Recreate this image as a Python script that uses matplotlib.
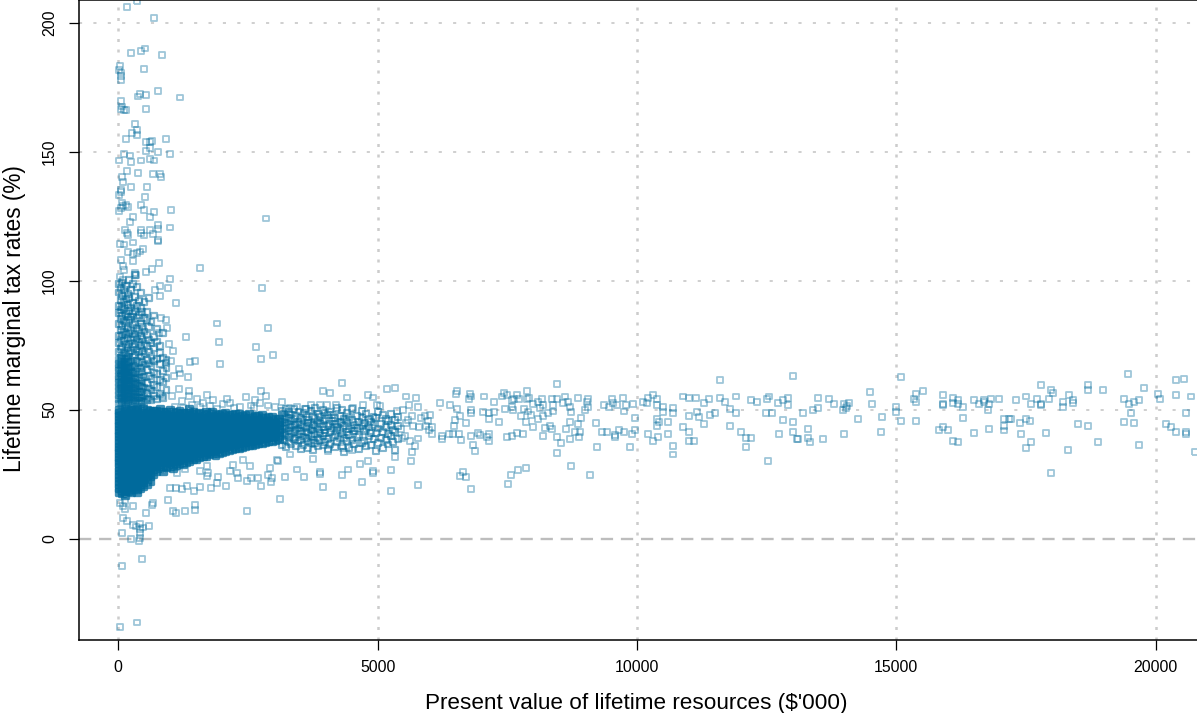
import numpy as np
import matplotlib
matplotlib.use("Agg")
import matplotlib.pyplot as plt

plt.rcParams['font.family'] = ['Liberation Sans', 'DejaVu Sans']

# right tail, read point by point
x_tail = [5540,5733,5611,5784,5482,6202,6395,6536,6511,6780,6755,6806,7050,7243,6536,6806,6806,6588,7038,7147,7243,7147,7340,7391,7442,7487,7584,7629,7680,7731,7873,7924,7873,7462,7584,7616,7828,7905,7950,8001,8130,8194,8098,8162,8355,8387,8451,8612,8580,8676,8708,8728,8387,8291,8194,8098,7757,7854,8001,6491,6478,6703,5656,5913,6009,5829,5977,5592,5547,5688,5804,5932,6041,5996,5444,5527,5463,5624,5784,5720,5662,5643,5784,6234,6234,6041,6376,6459,6575,6601,6800,6935,6973,7153,7102,7147,6832,6877,7487,7584,7680,7809,8194,8226,8323,8368,8464,8451,8535,8631,8708,8708,8805,8869,8920,8901,8882,8869,9062,9030,9062,8998,9209,9235,8464,8728,9094,9332,9415,9576,9576,9653,9756,9897,9961,9961,9865,9370,9467,9512,9544,9608,9724,9749,9788,9916,10109,10218,10199,10302,10392,10392,10508,10508,10700,10700,10604,10379,10430,10392,10205,10302,10398,10604,10700,10700,10893,11009,11009,11105,10893,11009,11131,11009,11150,11202,11298,11298,11394,11407,11504,11600,11600,11690,11793,11908,11908,11793,11998,12101,12198,12101,12191,12307,12500,12545,12480,12596,12712,12808,12904,12904,13001,12808,13001,13001,12737,13091,12519,6639,6588,6703,6806,7507,7564,7706,7854,
          13194,13387,13490,13490,13708,13805,13972,13997,14049,14023,14094,14486,14531,14261,14730,14704,13997,13586,13342,13297,13297,13104,15090,14994,14994,15090,15386,15386,15508,15334,15386,15893,15893,15893,16086,16086,16189,16189,16285,16504,16600,16696,16696,16818,16793,16767,16986,17300,17500,17596,17718,17789,17789,17789,17937,17988,18014,18207,18207,18329,18399,18399,18689,18689,18984,19395,19492,19588,19685,19466,19781,20051,20077,20391,20539,20391,20687,20584,19517,16285,15893,15822,15990,16504,16793,17082,17178,17204,17082,17082,17378,17500,17570,17403,17596,17500,17892,17988,18303,18496,18689,18888,19395,19588,19685,20199,20296,20391,20584,20584,20764,16086,16189]
y_tail = [55.1,54.6,51.7,51.1,49.7,52.7,51.7,57.1,56.0,56.0,54.1,55.1,55.1,53.1,50.2,49.7,48.7,47.7,49.2,48.7,49.2,46.2,45.3,55.1,56.6,55.7,53.6,54.1,55.7,54.1,57.1,54.6,54.1,50.2,51.1,50.0,50.2,49.3,48.0,52.2,50.6,51.7,53.1,54.1,54.1,51.7,54.1,55.1,52.6,53.1,51.1,49.2,49.3,48.7,47.4,46.4,47.7,45.1,43.4,45.9,43.8,44.8,47.7,47.7,48.0,46.8,45.5,45.9,44.8,43.8,43.4,43.8,43.4,42.0,42.5,39.9,39.0,38.0,38.8,36.0,33.7,30.2,20.8,39.9,38.6,40.4,40.4,40.7,40.7,38.4,39.9,41.0,40.2,40.7,39.4,38.0,36.4,34.1,39.5,39.9,41.0,40.7,39.9,42.9,43.8,42.4,60.1,39.5,37.0,42.4,45.3,38.5,41.5,44.3,46.8,41.5,39.4,54.6,54.1,53.0,51.1,49.7,44.8,35.5,33.1,28.2,24.8,41.5,41.5,39.4,40.3,42.0,41.5,40.4,42.0,46.8,35.5,51.7,51.1,54.1,52.6,51.9,54.6,49.3,51.7,52.2,53.1,54.6,52.6,55.7,54.1,51.7,51.1,49.2,50.6,48.7,45.3,46.4,45.3,43.8,40.4,38.0,39.4,40.4,36.0,32.6,43.4,41.5,38.0,38.0,55.1,54.6,54.6,47.7,49.2,47.3,44.3,52.7,54.1,48.0,48.7,61.5,54.6,53.1,50.2,55.1,48.7,43.8,41.5,38.9,38.9,35.5,53.6,53.1,54.1,55.1,48.7,48.7,52.7,53.6,54.6,51.7,62.9,45.9,45.3,41.5,40.4,38.5,30.2,25.8,24.3,23.9,19.4,21.3,24.8,26.7,27.3,
          48.7,49.7,50.6,54.6,54.1,52.2,49.7,52.2,51.3,50.6,52.7,56.7,52.2,46.4,47.3,41.5,40.4,38.5,37.5,38.9,42.4,38.5,62.5,51.1,49.2,45.7,45.7,56.2,57.1,54.1,53.1,55.7,52.2,51.8,54.6,52.7,53.6,52.2,51.1,53.6,52.2,53.6,53.1,54.1,52.2,49.7,54.1,53.6,55.1,52.2,54.1,59.5,52.2,51.8,54.1,57.6,56.6,53.1,51.1,55.7,53.6,52.7,59.5,57.6,57.6,54.1,52.2,53.1,53.6,63.9,58.5,56.1,54.1,61.5,62.0,55.7,55.1,48.7,48.7,46.8,43.3,42.0,42.0,41.0,42.4,46.2,46.2,46.2,43.8,41.9,44.8,46.2,45.7,40.4,37.5,35.0,41.0,25.3,34.5,44.3,43.8,37.5,45.3,44.8,36.4,44.3,43.4,41.5,41.5,40.4,33.6,38.0,37.5]

# high rates near zero resources
x_high = [167,366,681,514,437,244,849,32,19,52,52,52,489,759,418,386,534,1196,45,65,45,110,148,534,315,366,264,366,142,925,527,611,649,611,534,759,996,116,219,19,244,437,611,681,167,386,662,810,829,71,97,244,559,45,45,19,508,71,148,437,97,45,193,489,19,1022,681,604,289,2841,219,759,759,996,122,437,611,167,193,437,489,662,759,
          32,109,193,289,366,418,482,289,759,45,97,289,109,322,341,32,97,
          1575,2770,1896,2892,1311,1941,2648,2988,2744,1967,1485,1382,1118,996,784,656,534,951,803,707,803,913,816,932,784,971,1048,1016,913,1170,1189,1067,1337]
y_high = [206.2,208.4,201.7,190,189.2,188.1,187.6,183.2,181.7,180.7,179.4,177.8,182.2,173.4,172.4,171.4,171.9,171,169.6,167.5,166.6,166.2,166.1,166.6,160.6,158.3,157.4,156.4,154.8,154.8,153.8,153.8,154.3,151.3,150.4,149.9,149,149,148.5,146.6,146.1,146.6,147.1,146.6,142.6,141.7,141.2,141.2,140.3,140.3,138.3,136.2,136.2,135.2,134.2,133.3,132.4,130.3,129.4,129.4,128.8,128.1,128.4,127.5,127.1,127.5,126.6,124.6,124.6,124.1,122.6,121.5,120.1,120.6,119.7,119.7,119.7,118.4,117.7,118.4,117.5,118,115.8,
          114.3,114,111,110.4,110.7,111.3,112.2,114.8,115.2,108,105.8,107.5,104.2,103,102.3,101.6,100.4,
          104.9,97.1,83.4,81.5,78,76.1,74.2,71.3,69.8,67.8,68.8,68.3,91.3,100.6,106.8,104.6,103.3,97.1,97.8,96.5,93.9,84.9,85.5,81.5,79.7,75.6,72.6,68.9,68.1,65.8,64,62.9,62.5]

# low rates and the scatter just above and below the band
x_low = [463,71,26,366,71,244,399,424,424,412,418,289,341,482,585,161,97,534,1048,1118,1292,1485,1485,2481,3117,4331,5250,3939,4691,951,675,643,289,129,97,32,129,1000,1106,1221,1318,1459,1575,1780,1896,2069,2744,2937,2474,2551,2699,2963,3213,3580,2307,1922,1703,3888,4306,4916,
         3438,3085,4916,4820,4659,4434,3888,5334,5250,4498,4338,4049,3760,3310,3053,2538,2153,2217,2281,1703,1575,1735,1285,1125,2410,2924,2892,
         1170,1363,1369,1703,2089,2153,2455,2744,2841,2635,3161,2731,2551,1639,1832,1510,1221,1028,835,3939,4081,4318,4402,4813,4916,5173,5327,3708,3888,4016,4196,4723,4531,5045,4981,5366,
         1090,1255,1420,1580,1760,1905,2010,2230,2345,2610,2890,3020,3300,3450,3600]
y_low = [-8,-10.5,-34.3,-32.5,2.3,0,-1,0.4,2.3,3.9,5.6,5.2,4.7,4.3,4.9,6.8,8.1,10.1,10.7,9.8,10.7,11.1,13.2,10.7,15.5,16.9,18.5,20,21.9,15,13.9,13,12.7,11.4,12.7,13.7,14.6,19.5,19.5,19.1,20.4,18.5,20,19.5,21.4,20.4,20.4,21.9,22.3,23.4,23.4,23.4,23.9,23.9,23.4,23.9,24.3,25.2,24.7,25.6,
         26.8,30,26.1,30.2,29.1,26.8,25.9,31.7,26.5,34.5,35.2,33.9,30.9,32.6,30.6,28.1,26.1,28.7,25.5,28.1,26.1,25.5,26.8,25.5,30.6,27.4,24.8,
         58.1,57.1,55.2,55.6,54.1,52.6,54.8,57.1,55.2,53.6,53.1,52.6,51.6,52.6,53.9,54.1,53.2,55.4,55.4,57.1,56.6,60.5,54.7,55.6,54.7,58,58.5,51.7,51.7,51.7,51.7,51.7,50.7,51.3,51.7,49.4,
         51.2,50.6,51.8,50.9,51.4,50.4,52.2,50.8,51.1,50.5,51.6,50.9,50.7,51.2,50.3]

# cloud between 52 and 100 at the left, one column of readings per x
upper_x = [15,45,80,110,145,180,215,250,285,320,355,395,430,465,505,545,590,640,690,745,800,860,930]
upper_y = [
    [52.4,54.1,55.8,57.2,58.9,60.3,61.8,63.2,64.9,66.1,67.7,69.2,72.5,75.8,78.4,83.1,87.6,90.2,95.4,98.7],
    [53.0,54.7,56.3,57.9,59.4,60.8,62.5,63.9,65.4,67.0,68.4,70.1,73.6,77.2,80.9,85.3,88.7,92.6,97.1],
    [52.1,53.6,55.2,56.9,58.3,60.0,61.4,62.9,64.3,65.8,67.4,68.9,70.8,74.3,78.9,82.5,86.2,89.8,94.1,99.3],
    [52.8,54.5,56.1,57.6,59.2,60.6,62.1,63.7,65.1,66.6,68.1,69.7,72.1,76.6,80.1,84.4,88.9,91.7,96.3],
    [52.3,53.9,55.5,57.3,58.7,60.2,61.7,63.4,64.7,66.3,67.8,69.5,71.3,75.1,79.4,83.7,87.2,92.9,98.1],
    [53.3,54.8,56.6,58.1,59.6,61.2,62.6,64.1,65.6,67.2,68.6,70.4,73.9,77.8,81.6,86.1,90.7,94.8],
    [52.6,54.2,55.9,57.5,59.0,60.5,62.2,63.6,65.2,66.7,68.3,71.8,75.4,79.7,84.8,88.2,93.2,100.1],
    [53.1,54.9,56.4,58.2,59.8,61.3,63.0,64.5,66.4,68.8,72.9,76.9,80.8,85.9,89.6,96.4],
    [52.2,53.8,55.6,57.1,58.8,60.6,62.4,64.2,66.9,70.3,74.2,78.1,82.7,87.1,91.4,98.6],
    [53.4,55.1,56.7,58.5,60.1,62.0,64.0,67.3,71.2,75.6,79.2,84.1,88.4,93.6,102.1],
    [52.5,54.4,56.2,58.0,59.9,62.8,65.7,69.0,73.3,77.4,81.3,85.4,90.1,97.4],
    [53.2,55.0,57.0,59.1,61.6,64.6,68.2,72.2,76.1,80.5,86.8,92.3],
    [52.7,54.6,56.8,59.3,62.3,66.0,70.6,74.8,78.7,83.4,89.3,95.2],
    [53.5,55.7,58.4,61.1,64.8,68.5,72.7,77.5,82.2,87.9],
    [52.9,55.3,58.6,62.7,67.5,71.5,75.3,80.3,85.6,91.8],
    [53.7,56.5,60.4,65.3,69.3,74.7,79.0,84.6,88.0],
    [54.3,58.2,63.1,67.9,72.4,77.1,81.9,93.4],
    [53.8,57.4,61.9,66.8,70.7,75.9,83.9],
    [55.4,59.7,64.4,68.7,73.7,78.3,86.5],
    [54.0,58.8,63.8,69.6,76.4,81.1],
    [56.0,61.5,67.6,71.9,74.6],
    [54.4,60.7,65.0,70.0,79.8],
    [57.7,62.2,66.2,69.4],
]

# solid band, read column by column
core_x = [22,75,130,190,245,305,365,420,485,545,610,
          672,735,800,862,925,990,1055,1118,1180,1245,1310,1370,1435,1500,
          1562,1625,1690,1750,1815,1875,1940,2005,2065,2130,2190,2255,2320,2385,
          2450,2515,2575,2640,2700,2770,2830,2895,2960,3030,3100]
core_y = [
    [18.2,19.6,21.1,22.3,23.9,25.0,26.4,27.9,29.2,30.4,31.8,33.1,34.5,35.6,37.0,38.3,39.7,40.9,42.2,43.6,44.8,46.1,47.5,48.6,49.8],
    [17.5,18.9,20.4,21.7,23.0,24.4,25.9,27.1,28.5,29.8,31.0,32.4,33.8,35.2,36.3,37.7,39.0,40.2,41.6,43.0,44.1,45.4,46.9,48.1,49.3],
    [16.8,18.3,19.9,21.4,22.6,24.1,25.3,26.8,28.0,29.4,30.7,32.0,33.4,34.7,36.1,37.4,38.6,40.0,41.3,42.6,43.9,45.2,46.6,47.8,49.1,50.3],
    [18.6,20.0,21.3,22.9,24.3,25.6,27.0,28.3,29.6,31.1,32.3,33.6,35.0,36.4,37.6,38.9,40.3,41.7,42.9,44.3,45.6,46.8,48.2,49.5],
    [17.9,19.3,20.7,22.0,23.5,24.8,26.2,27.6,28.8,30.2,31.5,32.9,34.2,35.5,36.9,38.1,39.5,40.8,42.1,43.5,44.7,46.0,47.3,48.7,50.0],
    [19.1,20.5,21.9,23.3,24.6,26.0,27.4,28.7,30.0,31.4,32.7,34.0,35.3,36.7,38.0,39.3,40.6,41.9,43.3,44.6,45.9,47.2,48.5,49.7],
    [18.0,19.4,20.8,22.2,23.7,25.1,26.5,27.8,29.1,30.5,31.9,33.2,34.6,35.9,37.2,38.5,39.8,41.1,42.4,43.8,45.1,46.4,47.7,49.0,50.2],
    [19.5,21.0,22.5,24.0,25.4,26.7,28.1,29.5,30.8,32.1,33.5,34.8,36.2,37.5,38.8,40.1,41.4,42.8,44.0,45.3,46.7,48.0,49.4],
    [20.2,21.8,23.4,24.9,26.3,27.7,29.0,30.3,31.7,33.0,34.3,35.7,37.1,38.4,39.6,41.0,42.3,43.7,44.9,46.2,47.6,48.9,50.1],
    [21.2,23.1,24.7,26.1,27.5,28.9,30.1,31.6,32.8,34.1,35.4,36.8,38.2,39.4,40.7,42.0,43.4,44.6,46.0,47.4,48.6,49.9],
    [22.4,24.2,25.8,27.3,28.6,30.0,31.3,32.6,33.9,35.1,36.6,37.9,39.1,40.5,41.8,43.2,44.5,45.8,47.1,48.4,49.6],
    [25.0,27.0,28.4,29.9,31.2,32.5,33.7,35.0,36.5,37.8,39.2,40.4,41.7,43.1,44.4,45.7,47.0,48.3,49.5],
    [26.3,28.2,29.7,31.0,32.4,33.8,35.2,36.4,37.7,39.0,40.3,41.6,42.9,44.2,45.6,46.9,48.2,49.6],
    [27.4,28.9,30.4,31.7,33.1,34.4,35.8,37.1,38.5,39.8,41.1,42.5,43.8,45.0,46.4,47.8,49.0,50.2],
    [26.0,28.0,29.5,30.9,32.2,33.6,34.9,36.2,37.6,38.9,40.2,41.5,42.8,44.1,45.5,46.8,48.1,49.3],
    [27.8,29.2,30.6,32.0,33.3,34.7,36.0,37.3,38.7,40.0,41.4,42.7,44.0,45.4,46.6,47.9,49.2],
    [28.3,29.8,31.1,32.6,33.9,35.3,36.6,38.0,39.3,40.6,41.9,43.2,44.5,45.9,47.2,48.5,49.8],
    [27.2,29.0,30.5,31.8,33.2,34.5,35.9,37.2,38.6,39.9,41.2,42.6,43.9,45.2,46.5,47.7,49.1],
    [28.6,30.1,31.5,32.9,34.2,35.6,36.9,38.3,39.5,40.8,42.1,43.4,44.7,46.1,47.4,48.8],
    [29.3,30.8,32.3,33.7,35.0,36.3,37.7,39.1,40.4,41.7,43.0,44.3,45.6,47.0,48.3,49.5],
    [28.8,30.3,31.6,33.0,34.4,35.7,37.0,38.4,39.7,41.0,42.3,43.7,45.0,46.3,47.6,48.9],
    [29.6,31.2,32.7,34.1,35.5,36.8,38.1,39.4,40.7,42.0,43.5,44.8,46.0,47.3,48.6],
    [30.0,31.5,32.9,34.3,35.6,37.0,38.3,39.6,41.0,42.2,43.6,44.9,46.2,47.5,48.8,50.1],
    [30.7,32.1,33.5,34.8,36.2,37.5,38.8,40.1,41.5,42.8,44.1,45.4,46.7,48.0,49.2],
    [31.0,32.4,33.8,35.1,36.4,37.8,39.1,40.5,41.8,43.1,44.4,45.7,47.1,48.4],
    [31.6,33.0,34.4,35.7,37.1,38.4,39.7,41.0,42.4,43.7,45.0,46.3,47.6,48.9],
    [32.2,33.6,35.0,36.3,37.6,39.0,40.3,41.6,43.0,44.3,45.5,46.9,48.2],
    [31.9,33.3,34.7,36.0,37.4,38.7,40.0,41.3,42.7,44.0,45.3,46.6,47.9,49.2],
    [32.6,34.0,35.4,36.7,38.1,39.4,40.7,42.1,43.4,44.6,46.0,47.3,48.5],
    [33.0,34.4,35.8,37.2,38.5,39.8,41.2,42.5,43.8,45.1,46.4,47.7,49.0],
    [32.4,33.9,35.3,36.6,38.0,39.3,40.6,41.9,43.2,44.5,45.8,47.2,48.4],
    [33.3,34.7,36.1,37.4,38.8,40.1,41.4,42.8,44.1,45.4,46.7,48.0],
    [33.7,35.1,36.5,37.9,39.2,40.5,41.8,43.1,44.4,45.7,47.0,48.3],
    [34.1,35.5,36.8,38.2,39.5,40.8,42.2,43.5,44.8,46.1,47.4,48.7],
    [34.5,35.9,37.3,38.6,39.9,41.3,42.6,43.9,45.2,46.5,47.8],
    [34.8,36.2,37.6,38.9,40.2,41.6,42.9,44.2,45.5,46.8,48.1],
    [35.2,36.6,38.0,39.3,40.6,42.0,43.3,44.6,45.9,47.2,48.4],
    [35.0,36.4,37.7,39.1,40.4,41.7,43.0,44.4,45.6,47.0,48.2],
    [35.6,37.0,38.4,39.7,41.0,42.3,43.6,44.9,46.2,47.6],
    [35.9,37.3,38.6,40.0,41.3,42.6,43.9,45.3,46.6,47.9],
    [36.2,37.6,39.0,40.4,41.7,43.0,44.3,45.6,46.9,48.2],
    [36.4,37.8,39.2,40.5,41.9,43.2,44.5,45.8,47.1],
    [36.7,38.1,39.5,40.8,42.2,43.5,44.8,46.1,47.4],
    [37.0,38.4,39.8,41.1,42.4,43.7,45.0,46.3,47.6],
    [37.2,38.7,40.1,41.4,42.7,44.0,45.3,46.6,47.9],
    [37.5,38.9,40.3,41.6,42.9,44.2,45.5,46.8],
    [37.8,39.2,40.6,41.9,43.2,44.5,45.8,47.0],
    [38.0,39.4,40.8,42.2,43.5,44.8,46.1,47.3],
    [38.2,39.7,41.1,42.4,43.7,45.0,46.3],
    [38.5,39.9,41.3,42.6,43.9,45.2,46.5],
]

# thinning band, 3100 to 5400
band_x = [3150,3195,3240,3290,3335,3380,3430,3475,3520,3570,3615,3660,3710,3755,3800,3850,3895,3940,3990,4035,4080,4130,4175,4220,4270,4315,4360,4410,4455,4500,4550,4595,4640,4690,4735,4780,4830,4875,4920,4970,5015,5060,5110,5155,5200,5250,5295,5340,5390]
band_y = [
    [36.2,39.8,42.4,45.1,47.9,49.6],[38.1,41.0,43.7,46.2,48.5],[35.4,40.2,42.9,44.8,47.1,50.2],[37.3,39.4,41.8,44.0,46.7,49.0],
    [36.8,40.7,43.1,45.6,48.1],[38.6,41.4,43.9,46.4,50.4],[35.9,39.2,42.1,44.5,47.5],[37.7,40.5,42.7,45.3,49.3],
    [34.8,38.4,41.6,44.2,46.9],[36.4,39.6,43.4,45.9,48.8],[38.9,41.2,43.0,47.3,50.1],[35.2,37.9,40.9,44.7,46.1],
    [36.9,39.9,42.3,45.0,49.5],[34.3,38.2,41.9,44.1,47.6],[37.1,40.4,43.6,46.6,50.6],[35.7,39.1,42.6,45.4,48.3],
    [38.4,41.1,44.4,47.0],[36.1,39.7,43.2,45.8,50.0],[37.6,40.8,42.0,46.3,48.9],[34.9,38.7,43.8,47.8],
    [36.6,41.5,44.6,49.2],[39.3,42.8,45.7,48.0],[35.5,40.0,44.3,46.8],[37.4,41.7,43.3,50.8],
    [38.8,42.2,45.2,47.4],[36.0,40.6,44.9,49.8],[33.6,39.0,43.5,46.5],[37.8,41.3,45.5,48.6],
    [35.0,40.1,42.5,47.2],[38.3,43.0,46.0,50.3],[36.7,41.6,44.0],[39.5,42.9,47.7],
    [34.6,40.3,45.3],[37.2,43.7,46.9,49.4],[38.0,41.8,44.7],[35.8,42.4,48.2],
    [39.6,43.4,46.2],[36.3,41.0,45.1],[38.5,44.2,47.3],[34.1,40.9,46.7],
    [37.0,42.7,49.0],[39.1,44.6],[35.3,41.4,47.9],[38.2,43.1,46.4],
    [36.5,40.5,45.6],[39.8,44.1,48.4],[37.5,42.1],[34.4,41.2,46.1],[38.7,43.6,47.0],
]

x_ticks = [0, 5000, 10000, 15000, 20000]
y_ticks = [0, 50, 100, 150, 200]
grid_y = [50, 100, 150, 200]

fig = plt.figure(figsize=(11.97, 7.13), dpi=100)
ax = fig.add_axes([78.5/1197, 73/713, (1197-78.5)/1197, 640/713])
ax.set_xlim(-767, 20796)
ax.set_ylim(-39.3, 208.8)

for v in x_ticks:
    ax.axvline(v, color='#cccccc', lw=1.8, ls=(0, (1.2, 3.0)), zorder=1)
for v in grid_y:
    ax.axhline(v, color='#cfcfcf', lw=1.4, ls=(0, (1.6, 5.8)), zorder=1)
ax.axhline(0, color='#bdbdbd', lw=1.7, ls=(0, (5.2, 3.3)), zorder=1)

upper_xs = [x for x, ys in zip(upper_x, upper_y) for y in ys]
upper_ys = [y for ys in upper_y for y in ys]
band_xs = [x for x, ys in zip(band_x, band_y) for y in ys]
band_ys = [y for ys in band_y for y in ys]
core_xs = [x for x, ys in zip(core_x, core_y) for y in ys]
core_ys = [y for ys in core_y for y in ys]

pale = dict(marker='s', s=18, facecolors='none', edgecolors='#006a9c', linewidths=1.3, alpha=0.38, zorder=2)
ax.scatter(x_tail, y_tail, **pale)
ax.scatter(x_high, y_high, **pale)
ax.scatter(x_low, y_low, **pale)
ax.scatter(band_xs, band_ys, marker='s', s=18, facecolors='none', edgecolors='#006a9c', linewidths=1.5, alpha=0.5, zorder=2)
ax.scatter(upper_xs, upper_ys, marker='s', s=18, facecolors='none', edgecolors='#006a9c', linewidths=1.6, alpha=0.5, zorder=2)
ax.scatter(core_xs, core_ys, marker='s', s=18, facecolors='none', edgecolors='#006a9c', linewidths=2.4, alpha=0.75, zorder=2)

ax.spines['right'].set_visible(False)
for s in ['left', 'bottom', 'top']:
    ax.spines[s].set_linewidth(1.1)
ax.set_xticks(x_ticks)
ax.set_yticks(y_ticks)
ax.tick_params(axis='both', length=7.5, width=0.9, labelsize=11.4, pad=7)
ax.tick_params(axis='y', labelrotation=90, pad=8)
for t in ax.get_yticklabels():
    t.set_va('center')
fig.text(636/1197, 1-703/713, "Present value of lifetime resources ($'000)", fontsize=16.2, ha='center', va='center')
fig.text(15/1197, 1-319/713, "Lifetime marginal tax rates (%)", fontsize=16.3, rotation=90, ha='center', va='center')
fig.savefig("out.png", dpi=100)
